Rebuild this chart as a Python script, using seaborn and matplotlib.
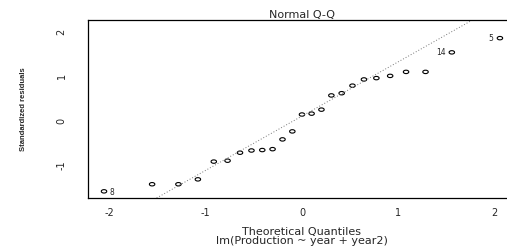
from statistics import NormalDist
import numpy as np
import pandas as pd
import seaborn as sns
import matplotlib.pyplot as plt
from matplotlib.markers import MarkerStyle
from matplotlib.transforms import Affine2D

# theoretical normal quantiles (25 obs) and standardized residuals
theoretical = [-2.054, -1.555, -1.282, -1.080, -0.915, -0.772, -0.643, -0.524, -0.412,
               -0.305, -0.202, -0.100, 0.000, 0.100, 0.202, 0.305, 0.412, 0.524,
               0.643, 0.772, 0.915, 1.080, 1.282, 1.555, 2.054]
std_resid = [-1.59, -1.43, -1.43, -1.32, -0.92, -0.90, -0.72, -0.67, -0.66,
             -0.64, -0.42, -0.24, 0.14, 0.16, 0.25, 0.57, 0.62, 0.79,
             0.93, 0.96, 1.01, 1.10, 1.10, 1.54, 1.86]
point_ids = ['8', '', '', '', '', '', '', '', '', '', '', '', '', '', '', '', '', '',
             '', '', '', '', '', '14', '5']

data = pd.DataFrame({'theoretical': theoretical, 'resid': std_resid, 'id': point_ids})

sns.set_style('white')
plt.rcParams['font.family'] = ['DejaVu Sans']

fig = plt.figure(figsize=(5.07, 2.48), dpi=100)
ax = fig.add_axes([0.1736, 0.2016, 0.844, 0.718])

# R output here is horizontally stretched, so squash the circles a bit
ell = MarkerStyle('o', transform=Affine2D().scale(1.6, 1.0))
sns.scatterplot(x='theoretical', y='resid', data=data, ax=ax, marker=ell, s=6,
                facecolor='none', edgecolor='black', linewidth=0.8)

# qqline through the quartiles
q1, q3 = np.quantile(data['resid'], [0.25, 0.75])
z = NormalDist().inv_cdf(0.75)
slope = (q3 - q1) / (2 * z)
intercept = q3 - slope * z
ax.axline((0, intercept), slope=slope, color='#777777', linestyle=(0, (1, 2)), linewidth=0.7)

for _, row in data[data['id'] != ''].iterrows():
    if row['id'] == '8':
        ax.annotate(row['id'], (row['theoretical'], row['resid']), xytext=(4, -1),
                    textcoords='offset points', ha='left', va='center', fontsize=5.5)
    else:
        ax.annotate(row['id'], (row['theoretical'], row['resid']), xytext=(-4.5, 0),
                    textcoords='offset points', ha='right', va='center', fontsize=5.5)

ax.set_xlim(-2.22, 2.22)
ax.set_ylim(-1.74, 2.27)
ax.set_xticks([-2, -1, 0, 1, 2])
ax.set_yticks([-1, 0, 1, 2])
ax.set_xticklabels(['-2', '-1', '0', '1', '2'], fontsize=7)
ax.set_yticklabels(['-1', '0', '1', '2'], fontsize=7, rotation=90, va='center')
ax.tick_params(axis='x', direction='out', length=3.5, width=0.7, color='#333333', pad=4)
ax.tick_params(axis='y', direction='out', length=6.5, width=0.7, color='#555555', pad=9)

for side in ['top', 'left', 'bottom']:
    ax.spines[side].set_visible(True)
    ax.spines[side].set_color('black')
    ax.spines[side].set_linewidth(0.9)
ax.spines['right'].set_visible(False)

ax.set_title('Normal Q-Q', fontsize=8, pad=1.5)
ax.set_xlabel('Theoretical Quantiles\nlm(Production ~ year + year2)', fontsize=8,
              linespacing=0.95, labelpad=6)
ax.set_ylabel('Standardized residuals', fontsize=5.5, fontweight='bold',
              family=['Liberation Sans'])
ax.yaxis.set_label_coords(-0.1425, 0.5)

plt.savefig('out.png', dpi=100)
